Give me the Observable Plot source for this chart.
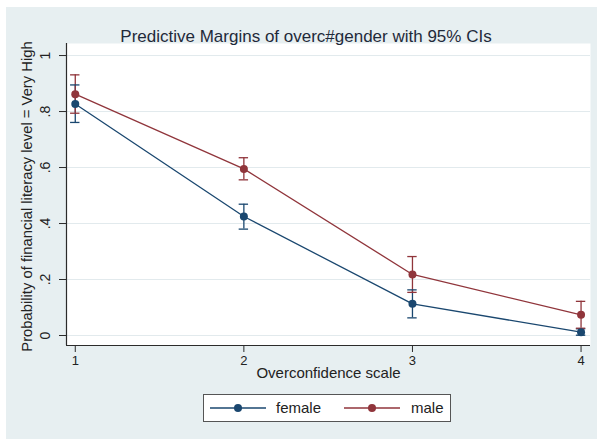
<!DOCTYPE html>
<html>
<head>
<meta charset="utf-8">
<script src="https://cdn.jsdelivr.net/npm/d3@7"></script>
<script src="https://cdn.jsdelivr.net/npm/@observablehq/plot@0.6"></script>
<style>
  html, body { margin: 0; padding: 0; background: #ffffff; }
  body { width: 597px; height: 439px; position: relative; overflow: hidden;
         font-family: "Liberation Sans", Arial, sans-serif; }
  #bg { position: absolute; left: 6px; top: 7px; width: 591px; height: 432px; background: #e7eff1; }
  #chart { position: absolute; left: 0; top: 0; }
  #title { position: absolute; left: 6px; width: 600px; top: 28px; text-align: center;
           font-size: 17px; line-height: 17px; color: #1f2a3a; white-space: nowrap; }
  #legend { position: absolute; left: 203px; top: 394px; width: 246px; height: 26px;
            background: #ffffff; border: 1px solid #555; }
  #legend svg { position: absolute; top: 0; }
  #legend span { position: absolute; top: 4px; font-size: 15px; line-height: 17px; color: #222; }
</style>
</head>
<body>
<div id="bg"></div>
<div id="chart"></div>
<div id="title">Predictive Margins of overc#gender with 95% CIs</div>
<div id="legend"></div>
<script>
// ---- data ----
const overc = [1, 2, 3, 4];
const genders = ["female", "male"];
const genderColors = ["#1a476f", "#90353b"];
const femaleMargin = [0.827, 0.425, 0.113, 0.012];
const femaleLo     = [0.761, 0.380, 0.063, 0.001];
const femaleHi     = [0.895, 0.469, 0.163, 0.024];
const maleMargin   = [0.862, 0.595, 0.218, 0.074];
const maleLo       = [0.794, 0.556, 0.154, 0.026];
const maleHi       = [0.931, 0.635, 0.282, 0.122];
const xTicks = [1, 2, 3, 4];
const yTicks = [0, 0.2, 0.4, 0.6, 0.8, 1];
const yTickLabels = ["0", ".2", ".4", ".6", ".8", "1"];
const xTitle = "Overconfidence scale";
const yTitle = "Probability of financial literacy level = Very High";

const rows = [];
overc.forEach((x, i) => {
  rows.push({gender: "female", x, y: femaleMargin[i], lo: femaleLo[i], hi: femaleHi[i]});
});
overc.forEach((x, i) => {
  rows.push({gender: "male", x, y: maleMargin[i], lo: maleLo[i], hi: maleHi[i]});
});
const yTickRows = yTicks.map((v, i) => ({v, label: yTickLabels[i]}));

const xDomain = [0.948, 4.056];
const yDomain = [-0.0357, 1.043];
const ink = "#2b2b2b";
const sw = 1.3;

const chart = Plot.plot({
  width: 597,
  height: 439,
  marginLeft: 66,
  marginRight: 7,
  marginTop: 43,
  marginBottom: 94,
  style: {background: "transparent", fontFamily: "'Liberation Sans', Arial, sans-serif", color: "#222"},
  x: {domain: xDomain, ticks: xTicks},
  y: {domain: yDomain, ticks: yTicks},
  color: {domain: genders, range: genderColors},
  marks: [
    Plot.frame({fill: "white", stroke: "none"}),
    Plot.gridY({ticks: yTicks, stroke: "#e2eaed", strokeOpacity: 1, strokeWidth: 1}),
    Plot.ruleX([xDomain[0]], {stroke: ink, strokeWidth: 1.2}),
    Plot.ruleY([yDomain[0]], {stroke: ink, strokeWidth: 1.2}),
    Plot.axisX({ticks: xTicks, tickSize: 7, tickPadding: 3, fontSize: 13, label: null, stroke: ink, tickFormat: d => String(d)}),
    Plot.axisY({ticks: yTicks, tickSize: 7, label: null, stroke: ink, tickFormat: () => ""}),
    Plot.text(yTickRows, {y: "v", text: "label", frameAnchor: "left", textAnchor: "middle", dx: -21, rotate: -90, fontSize: 14, fill: "#222"}),
    Plot.text([xTitle], {frameAnchor: "bottom", textAnchor: "middle", dy: 32, fontSize: 15, fill: "#222"}),
    Plot.text([yTitle], {frameAnchor: "left", textAnchor: "middle", dx: -39, dy: 2, rotate: -90, fontSize: 14.8, fill: "#222"}),
    Plot.line(rows, {x: "x", y: "y", z: "gender", stroke: "gender", strokeWidth: sw}),
    Plot.ruleX(rows, {x: "x", y1: "lo", y2: "hi", stroke: "gender", strokeWidth: sw}),
    Plot.ruleY(rows, {y: "hi", x1: "x", x2: "x", insetLeft: -4.7, insetRight: -4.7, stroke: "gender", strokeWidth: sw}),
    Plot.ruleY(rows, {y: "lo", x1: "x", x2: "x", insetLeft: -4.7, insetRight: -4.7, stroke: "gender", strokeWidth: sw}),
    Plot.dot(rows, {x: "x", y: "y", fill: "gender", r: 4})
  ]
});
document.getElementById("chart").appendChild(chart);

// ---- legend ----
const legend = document.getElementById("legend");
const legendItems = [
  {key: genders[0], color: genderColors[0], lineX: 6, textX: 72},
  {key: genders[1], color: genderColors[1], lineX: 140, textX: 207}
];
legendItems.forEach(it => {
  const s = d3.create("svg").attr("width", 60).attr("height", 26)
    .style("left", it.lineX + "px");
  s.append("line").attr("x1", 0).attr("x2", 56).attr("y1", 13).attr("y2", 13)
    .attr("stroke", it.color).attr("stroke-width", sw);
  s.append("circle").attr("cx", 28).attr("cy", 13).attr("r", 4).attr("fill", it.color);
  legend.appendChild(s.node());
  const t = document.createElement("span");
  t.textContent = it.key;
  t.style.left = it.textX + "px";
  legend.appendChild(t);
});
</script>
</body>
</html>
